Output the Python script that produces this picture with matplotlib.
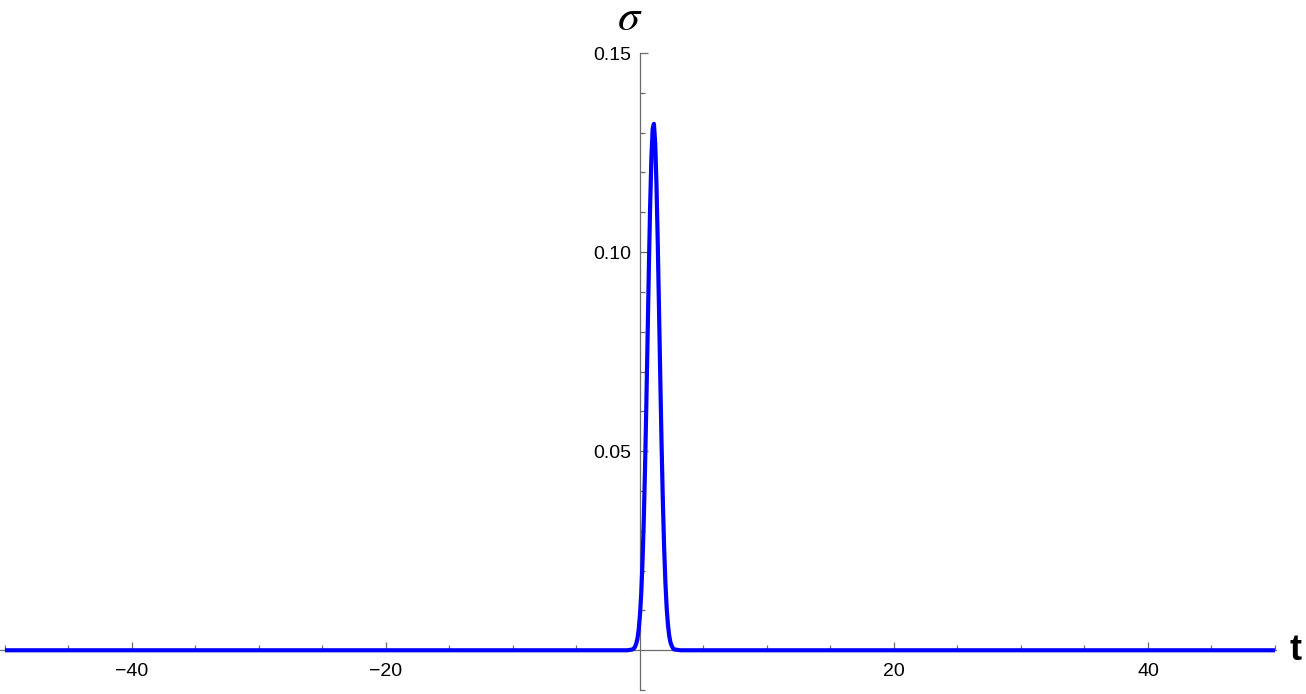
import matplotlib
matplotlib.use("Agg")
import matplotlib.pyplot as plt
import numpy as np

# data
t_vals = [-50.0, -1.0, -0.6, -0.5, -0.4, -0.3, -0.2, -0.1, 0.0, 0.1, 0.2, 0.3, 0.4,
          0.5, 0.6, 0.7, 0.8, 0.9, 1.0, 1.1, 1.2, 1.3, 1.4, 1.5, 1.6, 1.7, 1.8,
          1.9, 2.0, 2.1, 2.2, 2.3, 2.4, 2.5, 2.6, 2.7, 3.2, 50.0]
sigma_vals = [0.0, 0.0, 0.0002, 0.0004, 0.0008, 0.0016, 0.0029, 0.0052, 0.0089,
              0.0143, 0.0222, 0.0326, 0.0459, 0.0615, 0.0786, 0.0959, 0.1115,
              0.1238, 0.1310, 0.1322, 0.1273, 0.1169, 0.1024, 0.0856, 0.0682,
              0.0519, 0.0376, 0.0260, 0.0172, 0.0108, 0.0065, 0.0037, 0.0020,
              0.0011, 0.0005, 0.0002, 0.0, 0.0]
x_major = [-40, -20, 20, 40]
x_labels = ["\u221240", "\u221220", "20", "40"]
x_minor = [-50, -45, -35, -30, -25, -15, -10, -5, 5, 10, 15, 25, 30, 35, 45, 50]
y_major = [0.05, 0.10, 0.15]
y_labels = ["0.05", "0.10", "0.15"]
y_minor = [-0.01, 0.01, 0.02, 0.03, 0.04, 0.06, 0.07, 0.08, 0.09, 0.11, 0.12, 0.13, 0.14]

plt.rcParams['font.family'] = ['Liberation Sans', 'DejaVu Sans']
plt.rcParams['mathtext.fontset'] = 'stix'

fig = plt.figure(figsize=(13.06, 6.94), dpi=100)
ax = fig.add_axes([0.0, 0.00562, 0.97703, 0.91801])
ax.set_xlim(-50.39, 50.08)
ax.set_ylim(-0.01, 0.15)

axis_color = '#6b6b6b'
for s in ['top', 'right']:
    ax.spines[s].set_visible(False)
ax.spines['left'].set_position(('data', 0))
ax.spines['bottom'].set_position(('data', 0))
for s in ['left', 'bottom']:
    ax.spines[s].set_color(axis_color)
    ax.spines[s].set_linewidth(0.9)
ax.spines['left'].set_bounds(-0.01, 0.15)

ax.plot(t_vals, sigma_vals, color='#0000ff', lw=3.0, solid_capstyle='butt',
        clip_on=False, zorder=3)

ax.set_xticks(x_major)
ax.set_xticklabels(x_labels)
ax.set_xticks(x_minor, minor=True)
ax.set_yticks(y_major)
ax.set_yticklabels(y_labels)
ax.set_yticks(y_minor, minor=True)

ax.tick_params(which='both', direction='in', color=axis_color, width=0.9,
               labelsize=14, labelcolor='black')
ax.tick_params(which='major', length=5.8)
ax.tick_params(which='minor', length=3.4)
ax.tick_params(axis='x', which='major', pad=9)
ax.tick_params(axis='y', which='major', pad=6)

fig.text(630 / 1306, 1 - 18 / 694, r'$\sigma$', fontsize=32, ha='center', va='center')
fig.text(1296 / 1306, 1 - 651 / 694, 't', fontsize=26, fontweight='bold',
         ha='center', va='center')

fig.savefig('out.png', dpi=100)
